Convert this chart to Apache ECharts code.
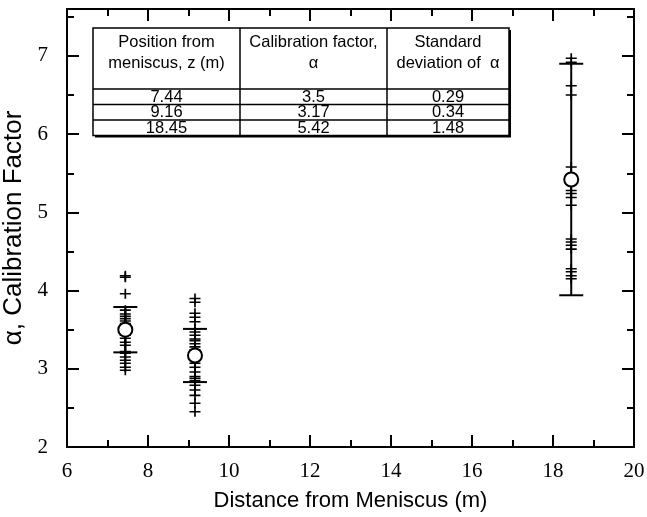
<!DOCTYPE html>
<html>
<head>
<meta charset="utf-8">
<script src="https://cdn.jsdelivr.net/npm/echarts@6/dist/echarts.min.js"></script>
<style>
  html, body { margin: 0; padding: 0; background: #fff; }
  #chart { width: 647px; height: 517px; }
</style>
</head>
<body>
<div id="chart"></div>
<script>
// Measurement positions along the tube (m)
const positions = [7.44, 9.16, 18.45];
// Mean calibration factor and its standard deviation at each position
const means = [3.5, 3.17, 5.42];
const stdDevs = [0.29, 0.34, 1.48];

// Individual calibration factor samples at each position
const samplesAt744 = [4.19, 4.17, 3.96, 3.75, 3.70, 3.67, 3.64, 3.61, 3.58, 3.55, 3.52,
  3.47, 3.43, 3.39, 3.34, 3.30, 3.22, 3.20, 3.15, 3.11, 3.07, 3.02, 2.98];
const samplesAt916 = [3.90, 3.85, 3.71, 3.66, 3.60, 3.51, 3.47, 3.43, 3.38, 3.36, 3.32,
  3.28, 3.24, 3.11, 3.07, 3.02, 2.96, 2.90, 2.88, 2.85, 2.79, 2.73, 2.66, 2.56, 2.45];
const samplesAt1845 = [6.97, 6.92, 6.62, 6.50, 5.58, 5.47, 5.28, 5.24, 5.19, 5.09,
  4.66, 4.62, 4.58, 4.53, 4.28, 4.24, 4.19, 4.15];

// Inset table text
const tableHeaders = [
  ['Position from', 'meniscus, z (m)'],
  ['Calibration factor,', 'α'],
  ['Standard', 'deviation of  α']
];
const tableRows = positions.map((p, i) => [String(p), String(means[i]), String(stdDevs[i])]);

// Axis settings
const xMin = 6, xMax = 20, xStep = 2;
const yMin = 2, yMax = 7.6, yStep = 1;
const xTitle = 'Distance from Meniscus (m)';
const yTitle = 'α, Calibration Factor';

const sampleGroups = [samplesAt744, samplesAt916, samplesAt1845];
const samplePoints = [];
sampleGroups.forEach((g, i) => g.forEach(v => samplePoints.push([positions[i], v])));

const chart = echarts.init(document.getElementById('chart'), null, { renderer: 'canvas' });

const tickFont = { fontFamily: 'Liberation Serif', fontSize: 21, color: '#000' };
const baseAxisLine = { show: true, lineStyle: { color: '#000', width: 2 } };
const majorTick = { show: true, inside: true, length: 12, lineStyle: { color: '#000', width: 2 } };
const minorTick = { show: true, splitNumber: 2, length: 7, lineStyle: { color: '#000', width: 2 } };

function xAxisDef(pos, showLabels) {
  return {
    type: 'value', position: pos, min: xMin, max: xMax, interval: xStep,
    axisLine: baseAxisLine, axisTick: majorTick, minorTick: minorTick,
    splitLine: { show: false },
    axisLabel: Object.assign({ show: showLabels, margin: 14 }, tickFont),
    name: showLabels ? xTitle : '', nameLocation: 'middle', nameGap: 43,
    nameTextStyle: { fontFamily: 'Liberation Sans', fontSize: 22, color: '#000' }
  };
}
function yAxisDef(pos, showLabels) {
  return {
    type: 'value', position: pos, min: yMin, max: yMax, interval: yStep,
    axisLine: baseAxisLine, axisTick: majorTick, minorTick: minorTick,
    splitLine: { show: false },
    axisLabel: Object.assign({
      show: showLabels, margin: 19,
      formatter: v => (Number.isInteger(v) ? String(v) : '')
    }, tickFont),
    name: showLabels ? yTitle : '', nameLocation: 'middle', nameGap: 29,
    nameTextStyle: { fontFamily: 'Liberation Sans', fontSize: 26, color: '#000' }
  };
}

// Table geometry
const tbl = { left: 93, top: 28, colW: [147, 147, 122], headH: 61, rowH: 15.5 };
function buildTable() {
  const els = [];
  const totalW = tbl.colW.reduce((a, b) => a + b, 0);
  const totalH = tbl.headH + tbl.rowH * tableRows.length;
  // shadow on right and bottom
  els.push({ type: 'rect', shape: { x: tbl.left + 2, y: tbl.top + 2, width: totalW, height: totalH },
    style: { fill: '#000' }, z: 10 });
  els.push({ type: 'rect', shape: { x: tbl.left, y: tbl.top, width: totalW, height: totalH },
    style: { fill: '#fff', stroke: '#000', lineWidth: 1.5 }, z: 11 });
  let x = tbl.left;
  const colX = [];
  tbl.colW.forEach((w, i) => {
    colX.push(x + w / 2);
    x += w;
    if (i < tbl.colW.length - 1) {
      els.push({ type: 'line', shape: { x1: x, y1: tbl.top, x2: x, y2: tbl.top + totalH },
        style: { stroke: '#000', lineWidth: 1.5 }, z: 12 });
    }
  });
  for (let r = 0; r < tableRows.length; r++) {
    const y = tbl.top + tbl.headH + r * tbl.rowH;
    els.push({ type: 'line', shape: { x1: tbl.left, y1: y, x2: tbl.left + totalW, y2: y },
      style: { stroke: '#000', lineWidth: 1.5 }, z: 12 });
  }
  const txt = { fontFamily: 'Liberation Sans', fontSize: 16.5, fill: '#000', align: 'center', verticalAlign: 'middle' };
  tableHeaders.forEach((lines, c) => {
    lines.forEach((ln, k) => {
      els.push({ type: 'text', x: colX[c], y: tbl.top + 14 + k * 21, style: Object.assign({ text: ln }, txt), z: 13 });
    });
  });
  tableRows.forEach((row, r) => {
    row.forEach((cell, c) => {
      els.push({ type: 'text', x: colX[c], y: tbl.top + tbl.headH + r * tbl.rowH + tbl.rowH / 2 + 0.5,
        style: Object.assign({ text: cell }, txt), z: 13 });
    });
  });
  return els;
}

const errorData = positions.map((p, i) => [p, means[i], stdDevs[i]]);

chart.setOption({
  animation: false,
  backgroundColor: '#fff',
  grid: { left: 67, right: 13, top: 9, bottom: 70, containLabel: false, outerBoundsMode: 'none' },
  xAxis: [xAxisDef('bottom', true), xAxisDef('top', false)],
  yAxis: [yAxisDef('left', true), yAxisDef('right', false)],
  graphic: buildTable(),
  series: [
    {
      type: 'scatter',
      data: samplePoints,
      symbol: 'path://M0,5L10,5M5,0L5,10',
      symbolSize: [11, 10],
      itemStyle: { color: 'none', borderColor: '#000', borderWidth: 1.6, opacity: 1 },
      z: 2
    },
    {
      type: 'custom',
      data: errorData,
      renderItem: function (params, api) {
        const x = api.value(0), m = api.value(1), s = api.value(2);
        const hi = api.coord([x, m + s]);
        const lo = api.coord([x, m - s]);
        const half = 12;
        const st = { stroke: '#000', lineWidth: 2 };
        return {
          type: 'group',
          children: [
            { type: 'line', shape: { x1: hi[0], y1: hi[1], x2: lo[0], y2: lo[1] }, style: st },
            { type: 'line', shape: { x1: hi[0] - half, y1: hi[1], x2: hi[0] + half, y2: hi[1] }, style: st },
            { type: 'line', shape: { x1: lo[0] - half, y1: lo[1], x2: lo[0] + half, y2: lo[1] }, style: st }
          ]
        };
      },
      z: 3
    },
    {
      type: 'scatter',
      data: positions.map((p, i) => [p, means[i]]),
      symbol: 'circle',
      symbolSize: 14,
      itemStyle: { color: '#fff', borderColor: '#000', borderWidth: 2, opacity: 1 },
      z: 4
    }
  ]
});
</script>
</body>
</html>
